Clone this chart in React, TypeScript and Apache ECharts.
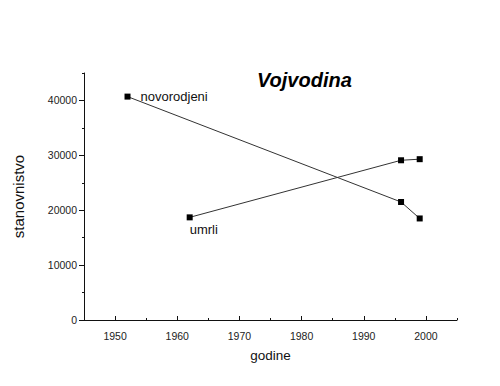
import React, { useEffect, useRef } from "react";
import * as echarts from "echarts";

const novoYears = [1952, 1996, 1999];
const novoValues = [40700, 21500, 18500];
const umrliYears = [1962, 1996, 1999];
const umrliValues = [18700, 29100, 29300];

const xLabelValues = [1950, 1960, 1970, 1980, 1990, 2000];
const xMinorValues = [1955, 1965, 1975, 1985, 1995, 2005];
const yLabelValues = [0, 10000, 20000, 30000, 40000];
const yMinorValues = [5000, 15000, 25000, 35000, 45000];

const FONT = "'Liberation Sans', Arial, Helvetica, sans-serif";

export default function App() {
  const ref = useRef<HTMLDivElement>(null);
  useEffect(() => {
    document.body.style.margin = "0";
    if (!ref.current) return;
    const chart = echarts.init(ref.current, undefined, { renderer: "svg" });
    const axisLine = { show: true, lineStyle: { color: "#111", width: 1 } };
    const grid = { left: 84, right: 43, top: 73, bottom: 66 };
    const plain = (v: number) => String(v);
    chart.setOption({
      animation: false,
      backgroundColor: "#ffffff",
      title: {
        text: "Vojvodina",
        left: 257,
        top: 70,
        padding: 0,
        textStyle: { fontFamily: FONT, fontSize: 20, fontWeight: "bold", fontStyle: "italic", color: "#000" },
      },
      grid,
      xAxis: [
        {
          type: "value",
          min: 1945,
          max: 2005,
          interval: 5,
          position: "bottom",
          axisLine,
          splitLine: { show: false },
          axisTick: { show: true, inside: true, length: 4, customValues: xLabelValues, lineStyle: { color: "#111" } },
          axisLabel: { customValues: xLabelValues, formatter: plain, margin: 10, fontFamily: FONT, fontSize: 10.5, color: "#222" },
          name: "godine",
          nameLocation: "middle",
          nameGap: 28,
          nameTextStyle: { fontFamily: FONT, fontSize: 13.5, color: "#111" },
        },
        {
          type: "value",
          min: 1945,
          max: 2005,
          interval: 5,
          position: "bottom",
          axisLine: { show: false },
          splitLine: { show: false },
          axisTick: { show: true, inside: true, length: 2, customValues: xMinorValues, lineStyle: { color: "#111" } },
          axisLabel: { show: false },
        },
      ],
      yAxis: [
        {
          type: "value",
          min: 0,
          max: 45000,
          interval: 5000,
          position: "left",
          axisLine,
          splitLine: { show: false },
          axisTick: { show: true, length: 5, customValues: yLabelValues, lineStyle: { color: "#111" } },
          axisLabel: { customValues: yLabelValues, formatter: plain, margin: 7, fontFamily: FONT, fontSize: 10.5, color: "#222" },
          name: "stanovnistvo",
          nameLocation: "middle",
          nameGap: 58,
          nameTextStyle: { fontFamily: FONT, fontSize: 15, color: "#111" },
        },
        {
          type: "value",
          min: 0,
          max: 45000,
          interval: 5000,
          position: "left",
          axisLine: { show: false },
          splitLine: { show: false },
          axisTick: { show: true, length: 2, customValues: yMinorValues, lineStyle: { color: "#111" } },
          axisLabel: { show: false },
        },
      ],
      series: [
        {
          name: "novorodjeni",
          type: "line",
          data: novoYears.map((y, i) => [y, novoValues[i]]),
          symbol: "rect",
          symbolSize: 6,
          lineStyle: { color: "#333", width: 1 },
          itemStyle: { color: "#000" },
          label: {
            show: true,
            formatter: (p: any) => (p.dataIndex === 0 ? "novorodjeni" : ""),
            position: "right",
            distance: 10,
            fontFamily: FONT,
            fontSize: 13,
            color: "#111",
          },
        },
        {
          name: "umrli",
          type: "line",
          data: umrliYears.map((y, i) => [y, umrliValues[i]]),
          symbol: "rect",
          symbolSize: 6,
          lineStyle: { color: "#333", width: 1 },
          itemStyle: { color: "#000" },
          label: {
            show: true,
            formatter: (p: any) => (p.dataIndex === 0 ? "umrli" : ""),
            position: "bottom",
            align: "left",
            distance: 3,
            fontFamily: FONT,
            fontSize: 13,
            color: "#111",
          },
        },
      ],
    });
    return () => chart.dispose();
  }, []);
  return <div ref={ref} style={{ width: 500, height: 386 }} />;
}
